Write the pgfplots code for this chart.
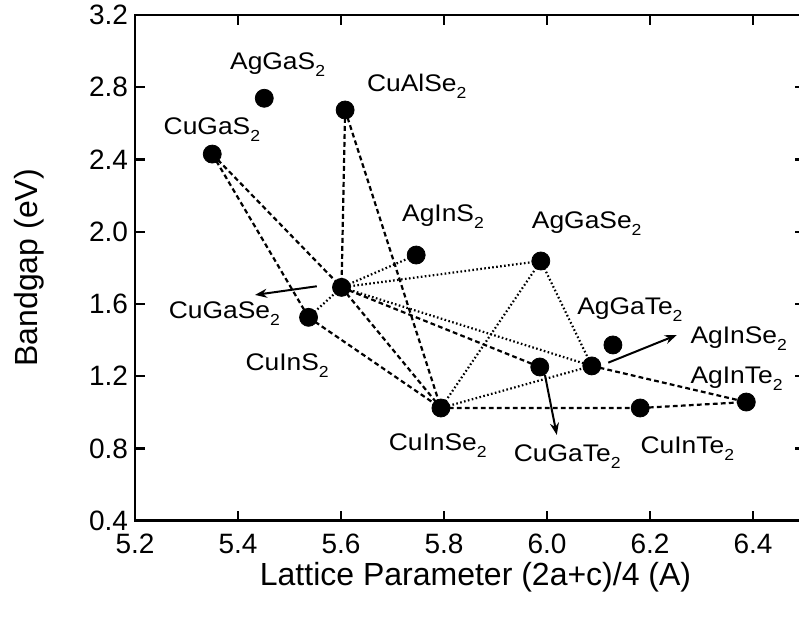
\documentclass[border=0pt]{standalone}
\usepackage{fontspec}
\setmainfont{Liberation Sans}
\newfontfamily\lblfont[FakeStretch=1.1]{Liberation Sans}
\usepackage{pgfplots}
\usepackage{pgfplotstable}
\pgfplotsset{compat=1.18}
\usetikzlibrary{arrows.meta}

% lowered subscript for the compound formulas
\newcommand\sub[1]{\raisebox{-3.5pt}{\fontsize{8}{9}\selectfont #1}}

% Chalcopyrite compounds: lattice parameter (2a+c)/4 and bandgap
\pgfplotstableread{
x      y
5.350  2.430
5.451  2.739
5.608  2.674
5.746  1.871
5.988  1.838
5.601  1.692
5.537  1.526
6.128  1.373
6.087  1.257
5.986  1.251
5.794  1.024
6.181  1.024
6.387  1.057
}\compounds

\tikzset{
  dashline/.style={black, line width=1.1pt, dash pattern=on 2.4pt off 1.6pt},
  dotline/.style={black, line width=1.1pt, dash pattern=on 0.8pt off 1.2pt},
  arrowline/.style={black, line width=1pt, -{Stealth[length=6pt,width=4.5pt]}},
  lbl/.style={anchor=base west, font=\lblfont\fontsize{12}{14}\selectfont, inner sep=0pt},
}

\begin{document}
\begin{tikzpicture}
\begin{axis}[
  scale only axis,
  width=334.75pt, height=252.84pt,
  xmin=5.2, xmax=6.5, ymin=0.4, ymax=3.2,
  xtick={5.2,5.4,5.6,5.8,6.0,6.2,6.4},
  ytick={0.4,0.8,1.2,1.6,2.0,2.4,2.8,3.2},
  /pgf/number format/.cd, fixed, fixed zerofill, precision=1, assume math mode=true,
  /pgfplots/.cd,
  tick align=inside,
  major tick length=5pt,
  every tick/.style={black, line width=1.2pt},
  axis line style={black, line width=1.2pt},
  tick label style={font=\fontsize{14}{16}\selectfont},
  xticklabel style={yshift=-3pt},
  xlabel={Lattice Parameter (2a+c)/4 (A)},
  ylabel={Bandgap (eV)},
  label style={font=\fontsize{16}{19}\selectfont},
  xlabel style={at={(axis description cs:0.5,0)}, anchor=base, yshift=-32.2pt, xshift=2.9pt},
  ylabel style={at={(axis description cs:-0.1583,0.5)}, anchor=center},
  clip=false,
]
% dashed tie lines
\addplot[dashline] coordinates {(5.350,2.430) (5.601,1.692)};
\addplot[dashline] coordinates {(5.350,2.430) (5.537,1.526)};
\addplot[dashline] coordinates {(5.537,1.526) (5.794,1.024)};
\addplot[dashline] coordinates {(5.608,2.674) (5.601,1.692)};
\addplot[dashline] coordinates {(5.608,2.674) (5.794,1.024)};
\addplot[dashline] coordinates {(5.601,1.692) (5.794,1.024)};
\addplot[dashline] coordinates {(5.601,1.692) (5.986,1.251)};
\addplot[dashline] coordinates {(6.087,1.257) (6.387,1.057)};
\addplot[dashline] coordinates {(5.794,1.024) (6.181,1.024) (6.387,1.057)};
% dotted tie lines
\addplot[dotline] coordinates {(5.537,1.526) (5.601,1.692)};
\addplot[dotline] coordinates {(5.601,1.692) (5.746,1.871)};
\addplot[dotline] coordinates {(5.601,1.692) (5.988,1.838)};
\addplot[dotline] coordinates {(5.601,1.692) (6.087,1.257)};
\addplot[dotline] coordinates {(5.988,1.838) (5.794,1.024)};
\addplot[dotline] coordinates {(5.988,1.838) (6.087,1.257)};
\addplot[dotline] coordinates {(5.794,1.024) (6.087,1.257)};
% pointer arrows
\addplot[arrowline] coordinates {(5.553,1.698) (5.433,1.650)};
\addplot[arrowline] coordinates {(5.996,1.207) (6.019,0.875)};
\addplot[arrowline] coordinates {(6.119,1.275) (6.252,1.428)};
% compounds
\addplot[only marks, mark=*, mark size=4.5pt, black] table[x=x, y=y] {\compounds};
% compound names
\node[lbl] at (axis cs:5.384,2.896) {AgGaS\sub{2}};
\node[lbl] at (axis cs:5.650,2.775) {CuAlSe\sub{2}};
\node[lbl] at (axis cs:5.255,2.536) {CuGaS\sub{2}};
\node[lbl] at (axis cs:5.718,2.059) {AgInS\sub{2}};
\node[lbl] at (axis cs:5.970,2.019) {AgGaSe\sub{2}};
\node[lbl] at (axis cs:6.058,1.539) {AgGaTe\sub{2}};
\node[lbl] at (axis cs:6.278,1.382) {AgInSe\sub{2}};
\node[lbl] at (axis cs:6.278,1.157) {AgInTe\sub{2}};
\node[lbl] at (axis cs:6.181,0.773) {CuInTe\sub{2}};
\node[lbl] at (axis cs:5.692,0.791) {CuInSe\sub{2}};
\node[lbl] at (axis cs:5.935,0.725) {CuGaTe\sub{2}};
\node[lbl] at (axis cs:5.265,1.521) {CuGaSe\sub{2}};
\node[lbl] at (axis cs:5.414,1.234) {CuInS\sub{2}};
\end{axis}
\pgfresetboundingbox
\path[use as bounding box] (-67.5pt,-49.15pt) rectangle (332pt,260.35pt);
\end{tikzpicture}
\end{document}
